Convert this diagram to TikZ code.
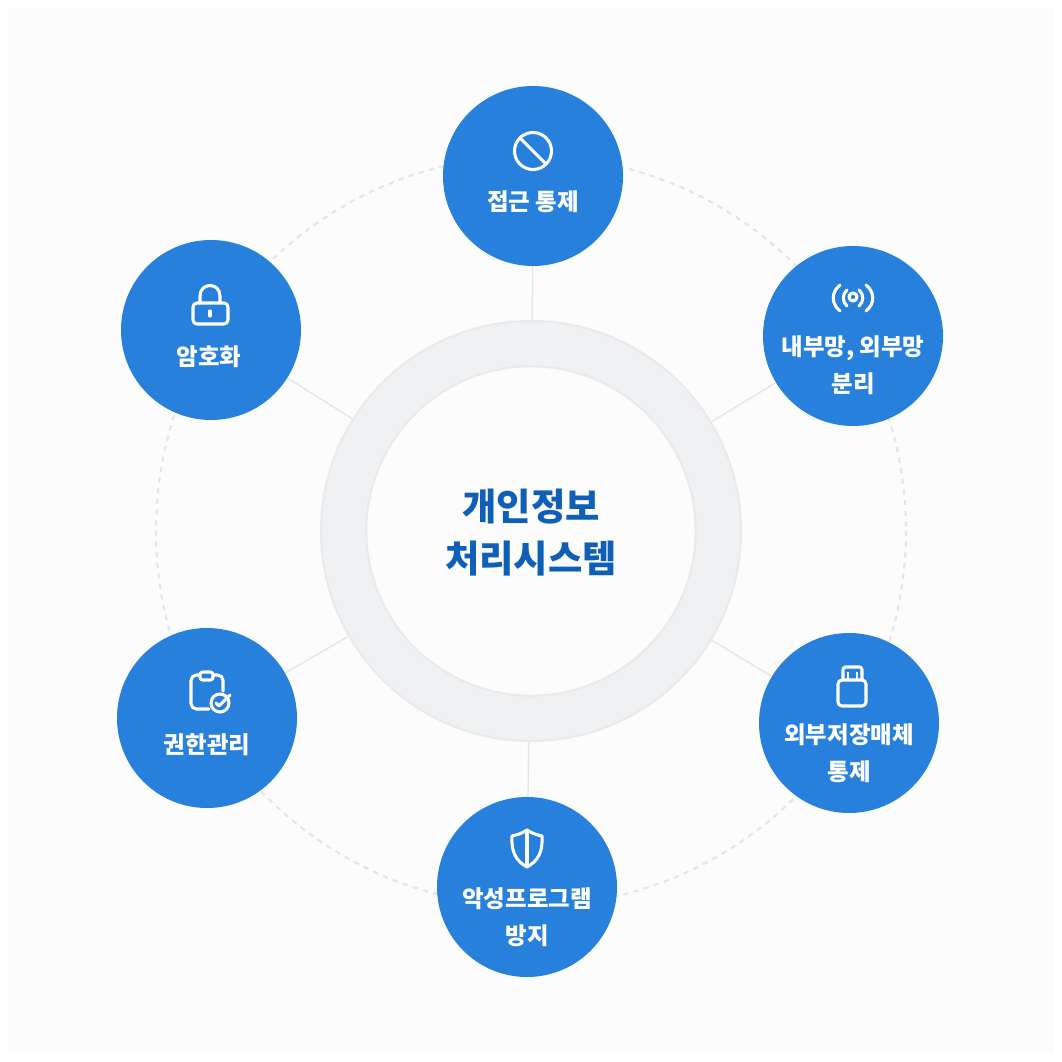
\documentclass[tikz,border=0pt]{standalone}
\usepackage{fontspec}
\setmainfont{Noto Sans CJK KR}
\definecolor{itemblue}{HTML}{2680DC}
\definecolor{titleblue}{HTML}{0F5FB8}
\definecolor{pagegray}{HTML}{FCFCFC}
\definecolor{ringgray}{HTML}{F0F1F3}
\definecolor{ringedge}{HTML}{E9EAEC}
\definecolor{spokegray}{HTML}{E4E5E7}
\tikzset{
    itemcircle/.style={circle, fill=itemblue, minimum size=135pt, inner sep=0pt},
    itemtext/.style={text=white, align=center, inner sep=0pt, font=\fontsize{17.6}{28}\selectfont\bfseries},
    spoke/.style={spokegray, line width=1pt},
    icon/.style={white, line width=2.3pt, line cap=round, line join=round},
}
\begin{document}
\begin{tikzpicture}[x=0.75pt, y=-0.75pt]
    \useasboundingbox (0,0) rectangle (1062,1062);
    \fill[pagegray] (8,8) rectangle (1054,1054);

    \draw[spokegray, line width=1.6pt, dash pattern=on 4pt off 4pt] (531,531) circle (375);

    \node[circle, fill=ringgray, draw=ringedge, line width=1.5pt, minimum size=315pt, inner sep=0pt] (hub) at (531,531) {};
    \node[circle, fill=pagegray, draw=ringedge, line width=1.5pt, minimum size=247pt, inner sep=0pt] (hubinner) at (531,531) {};
    \node[text=titleblue, align=center, inner sep=0pt, font=\fontsize{28}{39}\selectfont\bfseries] (hubtext) at (531,533) {개인정보\\처리시스템};

    \node[itemcircle] (access) at (533,176) {};
    \node[itemcircle] (network) at (853,336) {};
    \node[itemcircle] (storage) at (849,723) {};
    \node[itemcircle] (malware) at (527,887) {};
    \node[itemcircle] (rights) at (207,718) {};
    \node[itemcircle] (crypto) at (211,330) {};

    \draw[spoke] (hub) -- (access);
    \draw[spoke] (hub) -- (network);
    \draw[spoke] (hub) -- (storage);
    \draw[spoke] (hub) -- (malware);
    \draw[spoke] (hub) -- (rights);
    \draw[spoke] (hub) -- (crypto);

    \node[itemtext] (accesstext) at (533,202) {접근 통제};
    \node[itemtext] (networktext) at (853,365) {내부망, 외부망\\분리};
    \node[itemtext] (storagetext) at (849,753) {외부저장매체\\통제};
    \node[itemtext] (malwaretext) at (527,917) {악성프로그램\\방지};
    \node[itemtext] (rightstext) at (207,745) {권한관리};
    \node[itemtext] (cryptotext) at (209,357) {암호화};

    % no entry
    \draw[icon] (533,151) circle (18.5);
    \draw[icon] (520,138) -- (546,164);

    % antenna
    \draw[icon] (853,297) circle (4);
    \draw[icon] (847,290) .. controls (842,294) and (842,302) .. (847,306);
    \draw[icon] (859,290) .. controls (864,294) and (864,302) .. (859,306);
    \draw[icon] (840,285) .. controls (831,292) and (831,304) .. (840,311);
    \draw[icon] (866,285) .. controls (875,292) and (875,304) .. (866,311);

    % usb stick
    \draw[icon, rounded corners=3pt] (838,680) rectangle (866,706);
    \draw[icon, rounded corners=2pt] (843,680) -- (843,667) -- (862,667) -- (862,680);
    \draw[white, line width=1.3pt] (848,672) -- (848,679) (857,672) -- (857,679);

    % shield
    \draw[icon] (527,830) .. controls (533,834) and (538,835) .. (542,836)
        .. controls (543,852) and (538,861) .. (527,867)
        .. controls (516,861) and (511,852) .. (512,836)
        .. controls (516,835) and (521,834) .. (527,830) -- cycle;
    \draw[icon] (527,831) -- (527,866);

    % clipboard
    \draw[icon, rounded corners=4pt] (209,709) -- (191,709) -- (191,675) -- (223,675) -- (223,691);
    \draw[icon, fill=itemblue, rounded corners=2pt] (200,672) rectangle (213,680);
    \draw[icon, fill=itemblue] (220,703) circle (9);
    \draw[itemblue, line width=4pt] (229,693) -- (232,690);
    \draw[icon] (216,703) -- (219,706) -- (230,695);

    % padlock
    \draw[icon, rounded corners=3pt] (193,303) rectangle (228,324);
    \draw[icon] (200,303) -- (200,296) .. controls (200,282) and (220,282) .. (220,296) -- (220,303);
    \draw[icon] (210,311) -- (210,316);
\end{tikzpicture}
\end{document}
